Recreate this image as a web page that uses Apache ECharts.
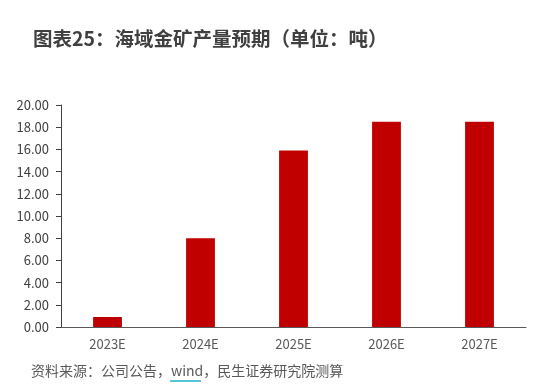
<!DOCTYPE html>
<html><head><meta charset="utf-8">
<script src="https://cdn.jsdelivr.net/npm/echarts@6/dist/echarts.min.js"></script>
<style>html,body{margin:0;padding:0;background:#fff}#c{width:555px;height:388px}</style>
</head><body><div id="c"></div>
<script>
var categories = ['2023E', '2024E', '2025E', '2026E', '2027E'];
var production = [0.9, 8.0, 15.9, 18.5, 18.5];
var titleText = '图表25：海域金矿产量预期（单位：吨）';
var sourceText = '资料来源：公司公告，wind，民生证券研究院测算';

var chart = echarts.init(document.getElementById('c'));
chart.setOption({
  animation: false,
  backgroundColor: '#fff',
  title: {
    text: titleText, left: 28, top: 24,
    textStyle: { fontSize: 19.5, fontWeight: 'bold', color: '#404040', fontFamily: 'Noto Sans CJK SC' }
  },
  grid: { left: 61, right: 29, top: 105, bottom: 61 },
  xAxis: {
    type: 'category', data: categories,
    axisLine: { lineStyle: { color: '#595959', width: 1 } },
    axisTick: { show: false },
    axisLabel: { color: '#595959', fontSize: 13, margin: 11, fontFamily: 'Noto Sans CJK SC' }
  },
  yAxis: {
    type: 'value', min: 0, max: 20, interval: 2,
    splitLine: { show: false },
    axisLine: { show: true, lineStyle: { color: '#404040', width: 1 } },
    axisTick: { show: true, inside: false, length: 5, lineStyle: { color: '#404040' } },
    axisLabel: { color: '#404040', fontSize: 13, margin: 12, fontFamily: 'Noto Sans CJK SC',
      formatter: function (v) { return v.toFixed(2); } }
  },
  series: [{
    type: 'bar', data: production, barWidth: '31%',
    itemStyle: { color: '#C00000' }
  }],
  graphic: [
    { type: 'text', left: 31, top: 364,
      style: { text: sourceText, fill: '#595959', fontSize: 14, fontFamily: 'Noto Sans CJK SC' } },
    { type: 'line', shape: { x1: 170, y1: 381, x2: 201, y2: 381 },
      style: { stroke: '#1FB3CE', lineWidth: 1.5 } }
  ]
});
</script></body></html>
